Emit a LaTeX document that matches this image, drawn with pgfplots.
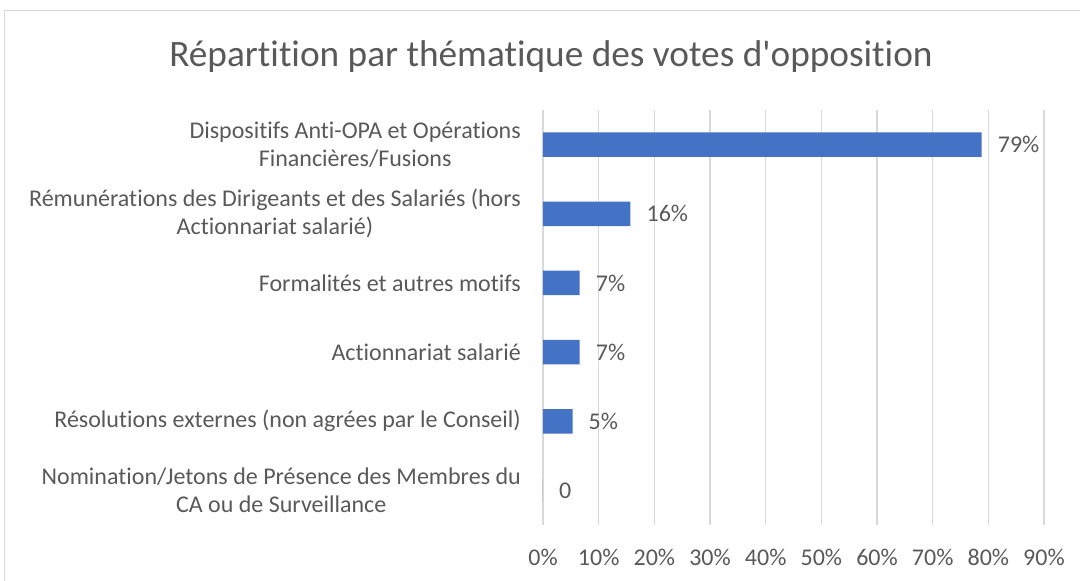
\documentclass[border=0pt]{standalone}
\usepackage{fontspec}
\setmainfont{Carlito}
\newfontfamily\carl{Carlito}[Ligatures={NoCommon,NoContextual}]
\usepackage{pgfplots}
\pgfplotsset{compat=1.18}
\definecolor{barblue}{HTML}{4472C4}
\definecolor{txt}{HTML}{595959}
\definecolor{gridc}{HTML}{D9D9D9}
\begin{document}
\carl
\begin{tikzpicture}[x=1pt,y=1pt]
\useasboundingbox (0,0) rectangle (1080,581);
\clip (0,0) rectangle (1080,581);
\draw[gridc, line width=1.2pt] (4.5,-20) -- (4.5,570.5) -- (1100,570.5);
\node[text=txt, font=\carl\fontsize{37.3}{44}\selectfont] at (551,524) {Répartition par thématique des votes d'opposition};
\begin{axis}[
  at={(543pt,56pt)}, anchor=south west, scale only axis,
  width=501pt, height=415pt,
  xbar, bar width=24.5pt,
  xmin=0, xmax=90, ymin=-0.5, ymax=5.5, y dir=reverse,
  xtick={0,10,20,30,40,50,60,70,80,90},
  xticklabels={0\%,10\%,20\%,30\%,40\%,50\%,60\%,70\%,80\%,90\%},
  ytick={0,1,2,3,4,5},
  yticklabels={{Dispositifs Anti-OPA et Opérations\\Financières/Fusions},
    {Rémunérations des Dirigeants et des Salariés (hors\\Actionnariat salarié)},
    {Formalités et autres motifs},
    {Actionnariat salarié},
    {Résolutions externes (non agrées par le Conseil)},
    {Nomination/Jetons de Présence des Membres du\\CA ou de Surveillance}},
  yticklabel style={align=center, inner sep=0pt, xshift=-22pt, text=txt, font=\carl\fontsize{24}{28}\selectfont},
  xticklabel style={inner sep=0pt, yshift=-24pt, text=txt, font=\carl\fontsize{24}{28}\selectfont},
  xmajorgrids, major grid style={gridc, line width=1.2pt},
  axis line style={draw=none}, major tick length=0pt,
  nodes near coords, point meta=explicit symbolic,
  every node near coord/.append style={anchor=west, inner sep=0pt, xshift=16pt, text=txt, font=\carl\fontsize{24}{28}\selectfont},
]
\addplot[fill=barblue, draw=none] coordinates {
  (78.8,0) [79\%]
  (15.7,1) [16\%]
  (6.6,2) [7\%]
  (6.6,3) [7\%]
  (5.3,4) [5\%]
  (0,5) [0]
};
\end{axis}
\end{tikzpicture}
\end{document}
